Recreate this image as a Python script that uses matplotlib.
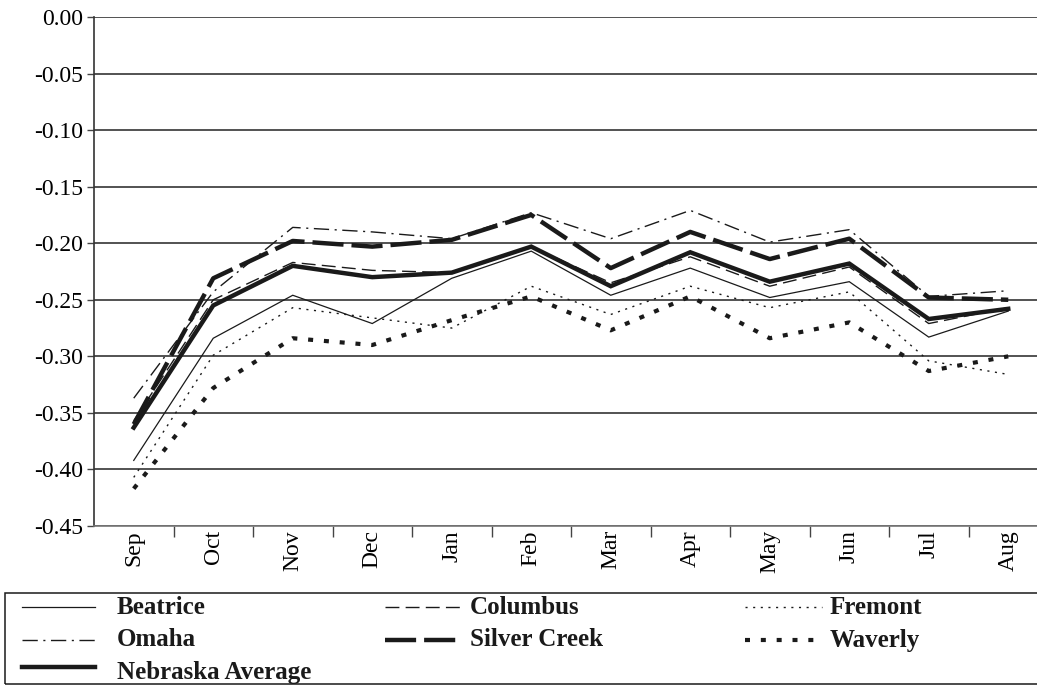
import matplotlib.pyplot as plt
from matplotlib.lines import Line2D
from matplotlib.patches import Rectangle
import numpy as np

# monthly values
months = ['Sep', 'Oct', 'Nov', 'Dec', 'Jan', 'Feb',
          'Mar', 'Apr', 'May', 'Jun', 'Jul', 'Aug']

beatrice = [-0.392, -0.284, -0.246, -0.271, -0.231, -0.207,
            -0.246, -0.222, -0.248, -0.234, -0.283, -0.260]
columbus = [-0.357, -0.250, -0.217, -0.224, -0.226, -0.203,
            -0.235, -0.212, -0.238, -0.221, -0.271, -0.257]
fremont = [-0.407, -0.299, -0.257, -0.266, -0.275, -0.238,
           -0.263, -0.238, -0.257, -0.243, -0.304, -0.316]
omaha = [-0.337, -0.243, -0.186, -0.190, -0.196, -0.173,
         -0.196, -0.171, -0.199, -0.188, -0.247, -0.242]
silver_creek = [-0.360, -0.231, -0.198, -0.203, -0.197, -0.175,
                -0.222, -0.190, -0.214, -0.196, -0.248, -0.250]
waverly = [-0.417, -0.328, -0.284, -0.290, -0.268, -0.247,
           -0.277, -0.247, -0.284, -0.270, -0.313, -0.300]
nebraska_avg = [-0.363, -0.255, -0.220, -0.230, -0.226, -0.203,
                -0.238, -0.208, -0.234, -0.218, -0.267, -0.258]

yticks = [0.00, -0.05, -0.10, -0.15, -0.20, -0.25, -0.30, -0.35, -0.40, -0.45]

INK = '#1a1a1a'
W, H = 1037, 685

plt.rcParams['font.family'] = ['Liberation Serif', 'DejaVu Serif']

# (label, data, linewidth, dash pattern or None for solid)
series = [
    ('Beatrice', beatrice, 0.9, None),
    ('Columbus', columbus, 1.0, (10, 4.5)),
    ('Fremont', fremont, 1.0, (1.5, 4)),
    ('Omaha', omaha, 1.0, (11, 4, 1.5, 4)),
    ('Silver Creek', silver_creek, 3.2, (7, 1.8)),
    ('Waverly', waverly, 3.0, (1.2, 2.6)),
    ('Nebraska Average', nebraska_avg, 3.2, None),
]

fig = plt.figure(figsize=(W / 100, H / 100), dpi=100)
ax = fig.add_axes([94 / W, 1 - 526 / H, 954 / W, 509 / H])

x = np.arange(len(months)) + 0.5
for name, vals, lw, dash in series:
    ln, = ax.plot(x, vals, color=INK, lw=lw, solid_joinstyle='miter')
    if dash is not None:
        ln.set_dashes(dash)

ax.set_xlim(0, len(months))
ax.set_ylim(-0.45, 0.0)
ax.set_yticks(yticks)
ax.set_yticklabels([f'{v:.2f}' for v in yticks], fontsize=17)
ax.set_xticks(x)
ax.set_xticklabels(months, rotation=90, fontsize=17)
ax.set_xticks(np.arange(1, len(months) + 1), minor=True)
ax.tick_params(axis='x', which='major', length=0, pad=3)
ax.tick_params(axis='x', which='minor', length=8, width=1, color='#444444')
ax.tick_params(axis='y', length=5, width=1, color='#444444', pad=3)
ax.yaxis.grid(True, color='#444444', lw=1.3)
ax.set_axisbelow(True)
for s in ['top', 'right']:
    ax.spines[s].set_visible(False)
ax.spines['left'].set_color('#333333')
ax.spines['bottom'].set_color('#777777')
ax.spines['left'].set_linewidth(1.2)
ax.spines['bottom'].set_linewidth(1.2)


def fx(px):
    return px / W


def fy(py):
    return 1 - py / H


# legend box drawn by hand so the three columns sit where the original has them
fig.add_artist(Rectangle((fx(5), fy(684)), fx(1050) - fx(5), fy(593) - fy(684),
                         transform=fig.transFigure, fill=False,
                         edgecolor=INK, lw=1.1))
col_line = [(22, 95), (385, 460), (745, 822)]
col_text = [117, 470, 830]
row_y = [607, 640, 672]
slots = [(0, 0), (1, 0), (2, 0), (0, 1), (1, 1), (2, 1), (0, 2)]
for (name, vals, lw, dash), (c, r) in zip(series, slots):
    x0, x1 = col_line[c]
    ly = row_y[r] - (5 if name == 'Nebraska Average' else 0)
    lh = Line2D([fx(x0), fx(x1)], [fy(ly), fy(ly)], transform=fig.transFigure,
                color=INK, lw=lw)
    if dash is not None:
        lh.set_dashes(dash)
    fig.add_artist(lh)
    fig.text(fx(col_text[c]), fy(row_y[r]), name, fontsize=18,
             fontweight='bold', va='center', ha='left', color=INK)

fig.savefig('out.png', dpi=100)
